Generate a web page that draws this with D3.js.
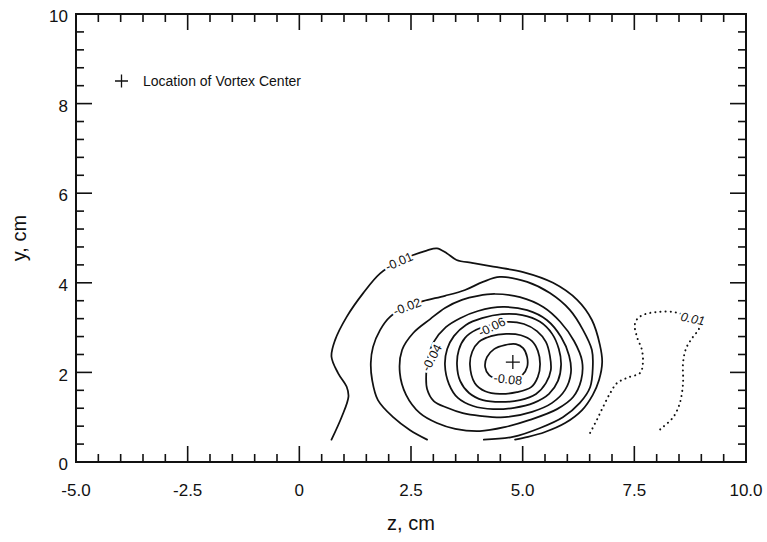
<!DOCTYPE html>
<html>
<head>
<meta charset="utf-8">
<script src="https://cdn.jsdelivr.net/npm/d3@7"></script>
<style>
  html, body { margin: 0; padding: 0; background: #fff; }
  svg { display: block; font-family: "Liberation Sans", Arial, Helvetica, sans-serif; }
</style>
</head>
<body>
<svg id="chart" width="767" height="542"></svg>
<script>
// ---- axis ticks ----
const xTickValues = [-5, -2.5, 0, 2.5, 5, 7.5, 10];
const xTickLabels = ["-5.0", "-2.5", "0", "2.5", "5.0", "7.5", "10.0"];
const yTickValues = [0, 2, 4, 6, 8, 10];
const yTickLabels = ["0", "2", "4", "6", "8", "10"];

// ---- contour lines of the measured field, [z (cm), y (cm)] ----
const contourM001 = [[0.72,0.5],[0.95,1.01],[1.10,1.46],[1.06,1.68],[0.87,1.98],[0.72,2.35],[0.80,2.72],[1.06,3.24],[1.43,3.77],[1.81,4.21],[2.23,4.48],[2.55,4.62],[2.85,4.72],[3.08,4.77],[3.30,4.66],[3.52,4.51],[3.89,4.44],[4.34,4.36],[5.01,4.24],[5.68,4.00],[6.22,3.62],[6.55,3.17],[6.73,2.61],[6.78,2.23],[6.71,1.83],[6.57,1.50],[6.33,1.16],[5.95,0.87],[5.50,0.67],[5.12,0.56],[4.83,0.5]];
const contourM002 = [[2.86,0.5],[2.48,0.71],[2.10,1.00],[1.76,1.38],[1.63,1.83],[1.60,2.21],[1.65,2.57],[1.81,2.95],[2.03,3.24],[2.41,3.47],[2.77,3.59],[3.26,3.71],[3.71,3.84],[4.11,4.02],[4.49,4.13],[5.10,4.02],[5.61,3.77],[6.06,3.39],[6.35,2.95],[6.55,2.50],[6.57,2.12],[6.51,1.67],[6.28,1.32],[5.90,1.00],[5.39,0.76],[4.78,0.56],[4.13,0.5]];
const contourM003 = [[2.25,1.99],[2.30,2.50],[2.55,2.88],[2.93,3.19],[3.26,3.44],[3.64,3.62],[4.00,3.71],[4.38,3.75],[4.94,3.68],[5.46,3.46],[5.84,3.13],[6.15,2.70],[6.33,2.25],[6.31,1.83],[6.13,1.45],[5.77,1.18],[5.16,0.94],[4.60,0.78],[4.04,0.69],[3.49,0.74],[3.08,0.87],[2.70,1.09],[2.39,1.50]];
const contourM004 = [[2.84,1.94],[2.88,2.32],[3.01,2.68],[3.28,3.01],[3.60,3.21],[4.00,3.37],[4.56,3.46],[5.10,3.39],[5.54,3.17],[5.86,2.79],[6.04,2.37],[6.08,1.99],[5.95,1.61],[5.66,1.32],[5.21,1.12],[4.60,1.00],[4.04,1.03],[3.66,1.09],[3.31,1.21],[3.01,1.36],[2.86,1.63]];
const contourM005 = [[3.26,2.17],[3.31,2.52],[3.46,2.81],[3.73,3.06],[4.09,3.21],[4.54,3.30],[4.99,3.28],[5.39,3.13],[5.66,2.86],[5.81,2.52],[5.86,2.17],[5.79,1.81],[5.59,1.52],[5.25,1.32],[4.81,1.21],[4.34,1.18],[3.89,1.25],[3.55,1.43],[3.35,1.74]];
const contourM006 = [[3.53,2.17],[3.57,2.50],[3.71,2.77],[3.96,2.95],[4.31,3.06],[4.67,3.13],[5.03,3.08],[5.32,2.92],[5.52,2.68],[5.61,2.37],[5.63,2.05],[5.52,1.76],[5.30,1.52],[4.94,1.38],[4.51,1.34],[4.11,1.38],[3.80,1.54],[3.60,1.81]];
const contourM007 = [[3.82,2.17],[3.87,2.46],[4.02,2.68],[4.29,2.81],[4.63,2.86],[4.96,2.83],[5.21,2.70],[5.34,2.48],[5.39,2.19],[5.34,1.90],[5.19,1.67],[4.87,1.56],[4.49,1.52],[4.16,1.58],[3.93,1.76]];
const contourM008 = [[4.16,2.12],[4.20,2.34],[4.36,2.52],[4.60,2.61],[4.85,2.63],[5.01,2.54],[5.10,2.34],[5.10,2.12],[4.99,1.94],[4.72,1.85],[4.45,1.85],[4.25,1.94]];
const contourP001 = [[6.51,0.65],[6.66,0.94],[6.80,1.23],[6.96,1.54],[7.11,1.76],[7.34,1.88],[7.63,1.99],[7.69,2.19],[7.67,2.50],[7.56,2.79],[7.51,3.06],[7.58,3.21],[7.74,3.30],[8.03,3.35],[8.37,3.35],[8.61,3.28],[8.84,3.17],[8.95,2.99],[8.81,2.79],[8.66,2.54],[8.59,2.21],[8.59,1.76],[8.52,1.32],[8.37,1.00],[8.14,0.78],[8.01,0.67]];

const contourSets = [
  { level: -0.01, pts: contourM001, closed: false },
  { level: -0.02, pts: contourM002, closed: false },
  { level: -0.03, pts: contourM003, closed: true },
  { level: -0.04, pts: contourM004, closed: true },
  { level: -0.05, pts: contourM005, closed: true },
  { level: -0.06, pts: contourM006, closed: true },
  { level: -0.07, pts: contourM007, closed: true },
  { level: -0.08, pts: contourM008, closed: true },
  { level: 0.01,  pts: contourP001, closed: false }
];

// ---- contour labels ----
const labelText  = ["-0.01", "-0.02", "-0.04", "-0.06", "-0.08", "0.01"];
const labelZ     = [2.23, 2.41, 2.96, 4.31, 4.67, 8.81];
const labelY     = [4.48, 3.47, 2.33, 3.02, 1.85, 3.20];
const labelAngle = [-24, -21, -62, -26, 6, 12];

// ---- vortex centre ----
const vortexCenter = [4.78, 2.23];
const legendText = "Location of Vortex Center";

// ---- layout ----
const svg = d3.select("#chart");
const margin = { left: 76, top: 14, right: 21, bottom: 80 };
const W = 767, H = 542;
const x = d3.scaleLinear().domain([-5, 10]).range([margin.left, W - margin.right]);
const y = d3.scaleLinear().domain([0, 10]).range([H - margin.bottom, margin.top]);
const x0 = x.range()[0], x1 = x.range()[1];
const y0 = y.range()[0], y1 = y.range()[1];

// ---- contours ----
const lineOpen = d3.line().x(d => x(d[0])).y(d => y(d[1])).curve(d3.curveCatmullRom.alpha(0.5));
const lineClosed = d3.line().x(d => x(d[0])).y(d => y(d[1])).curve(d3.curveCatmullRomClosed.alpha(0.5));

const gC = svg.append("g");
gC.selectAll("path")
  .data(contourSets)
  .join("path")
  .attr("d", d => (d.closed ? lineClosed : lineOpen)(d.pts))
  .attr("fill", "none")
  .attr("stroke", "#111")
  .attr("stroke-width", d => d.level > 0 ? 2 : 1.75)
  .attr("stroke-linecap", "round")
  .attr("stroke-linejoin", "round")
  .attr("stroke-dasharray", d => d.level > 0 ? "0.1,5" : null);

// contour labels break their lines with a white halo
const gL = svg.append("g");
gL.selectAll("text")
  .data(labelText)
  .join("text")
  .attr("transform", (d, i) => `translate(${x(labelZ[i])},${y(labelY[i])}) rotate(${labelAngle[i]})`)
  .attr("text-anchor", "middle")
  .attr("dy", "0.36em")
  .attr("font-size", 12.5)
  .attr("fill", "#111")
  .attr("stroke", "#fff")
  .attr("stroke-width", 4.5)
  .attr("stroke-linejoin", "round")
  .attr("paint-order", "stroke")
  .style("font-style", (d, i) => i === 5 ? "italic" : null)
  .text(d => d);

// vortex centre marker
function plus(g, cx, cy, r) {
  g.append("path")
    .attr("d", `M${cx - r},${cy}H${cx + r}M${cx},${cy - r}V${cy + r}`)
    .attr("stroke", "#111").attr("stroke-width", 1.3).attr("fill", "none");
}
plus(svg, x(vortexCenter[0]), y(vortexCenter[1]), 7);

// ---- frame & ticks ----
const gA = svg.append("g").attr("stroke", "#111");
gA.append("rect")
  .attr("x", x0).attr("y", y1).attr("width", x1 - x0).attr("height", y0 - y1)
  .attr("fill", "none").attr("stroke-width", 2);

const xTicksAll = d3.range(-4.5, 10, 0.5);
const yTicksAll = d3.range(0.4, 10, 0.4);
const isMajorX = v => Math.abs(v / 2.5 - Math.round(v / 2.5)) < 1e-6;
const isMajorY = v => Math.abs(v / 2 - Math.round(v / 2)) < 1e-6;
const majLen = 16, minLen = 8;

gA.selectAll("line.xb").data(xTicksAll).join("line")
  .attr("x1", d => x(d)).attr("x2", d => x(d))
  .attr("y1", y0).attr("y2", d => y0 - (isMajorX(d) ? majLen : minLen))
  .attr("stroke-width", 1.6);
gA.selectAll("line.xt").data(xTicksAll).join("line")
  .attr("x1", d => x(d)).attr("x2", d => x(d))
  .attr("y1", y1).attr("y2", d => y1 + (isMajorX(d) ? majLen : minLen))
  .attr("stroke-width", 1.6);
gA.selectAll("line.yl").data(yTicksAll).join("line")
  .attr("y1", d => y(d)).attr("y2", d => y(d))
  .attr("x1", x0).attr("x2", d => x0 + (isMajorY(d) ? majLen : minLen))
  .attr("stroke-width", 1.6);
gA.selectAll("line.yr").data(yTicksAll).join("line")
  .attr("y1", d => y(d)).attr("y2", d => y(d))
  .attr("x1", x1).attr("x2", d => x1 - (isMajorY(d) ? majLen : minLen))
  .attr("stroke-width", 1.6);

// ---- tick labels ----
svg.append("g").selectAll("text").data(xTickValues).join("text")
  .attr("x", d => x(d)).attr("y", y0 + 34)
  .attr("text-anchor", "middle").attr("font-size", 17).attr("fill", "#111")
  .text((d, i) => xTickLabels[i]);
svg.append("g").selectAll("text").data(yTickValues).join("text")
  .attr("x", x0 - 8).attr("y", d => y(d) + 2)
  .attr("dy", "0.36em")
  .attr("text-anchor", "end").attr("font-size", 17).attr("fill", "#111")
  .text((d, i) => yTickLabels[i]);

// ---- axis titles ----
svg.append("text")
  .attr("x", (x0 + x1) / 2).attr("y", 530)
  .attr("text-anchor", "middle").attr("font-size", 20).attr("fill", "#111")
  .text("z, cm");
svg.append("text")
  .attr("transform", `translate(26,${(y0 + y1) / 2}) rotate(-90)`)
  .attr("text-anchor", "middle").attr("font-size", 20).attr("fill", "#111")
  .text("y, cm");

// ---- legend ----
plus(svg, 121.5, 81, 6.5);
svg.append("text")
  .attr("x", 143).attr("y", 86)
  .attr("font-size", 14).attr("fill", "#111")
  .text(legendText);
</script>
</body>
</html>
